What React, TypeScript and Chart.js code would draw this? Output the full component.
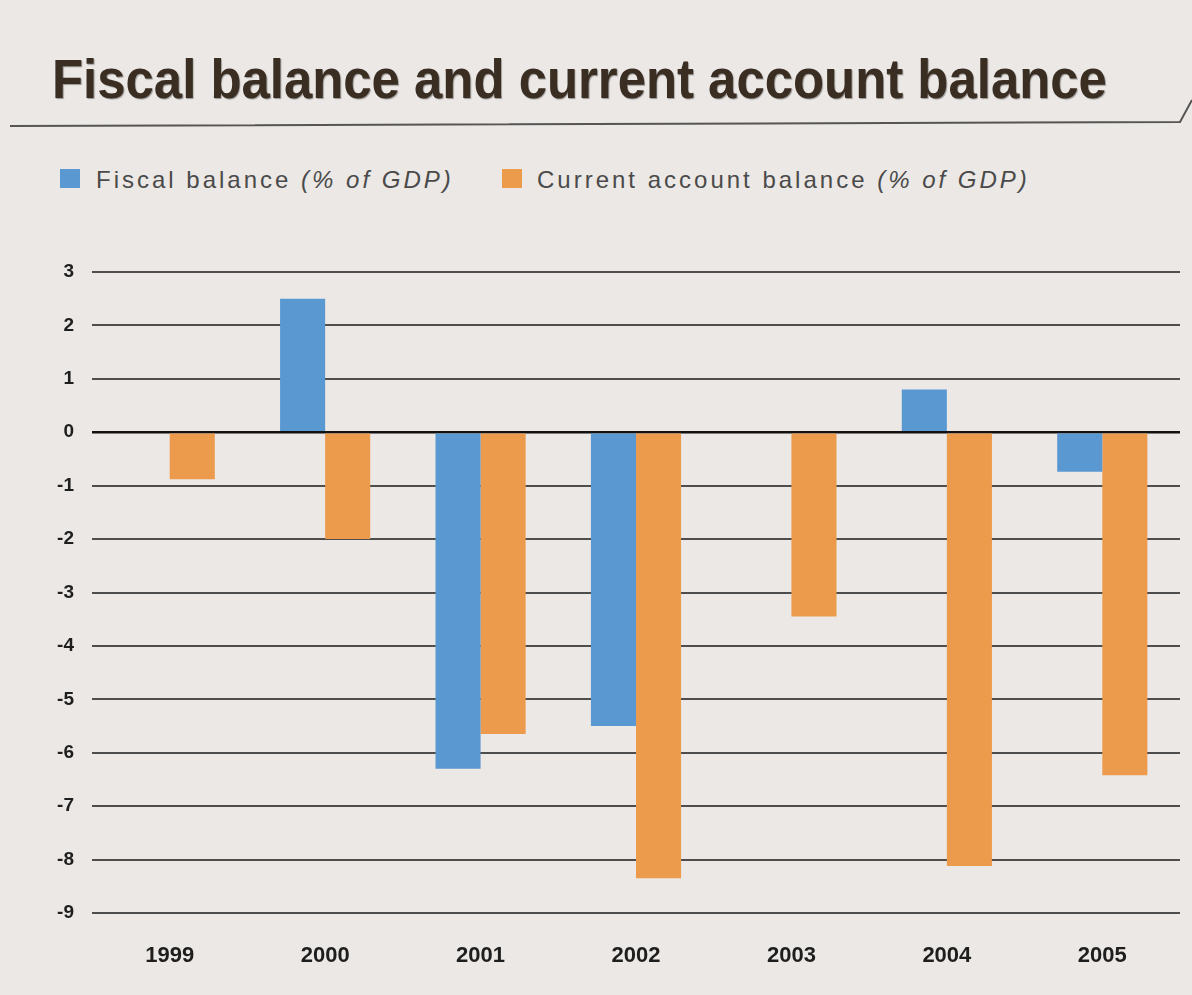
import React, { useEffect, useRef } from "react";
import { Chart, registerables } from "chart.js";

Chart.register(...registerables);

const years = ["1999", "2000", "2001", "2002", "2003", "2004", "2005"];
const fiscalBalance = [null, 2.5, -6.3, -5.5, 0, 0.8, -0.74];
const currentAccountBalance = [-0.88, -2.0, -5.65, -8.35, -3.45, -8.12, -6.42];
const yTickMin = -9;
const yTickMax = 3;

const BLUE = "#5a98d2";
const ORANGE = "#ec9a4c";
const BG = "#ebe8e5";
const TITLE_WIDTH = 1055;

export default function App() {
  const canvasRef = useRef<HTMLCanvasElement | null>(null);
  const titleRef = useRef<HTMLDivElement | null>(null);

  useEffect(() => {
    if (titleRef.current) {
      const w = titleRef.current.scrollWidth;
      if (w > 0) titleRef.current.style.transform = `scaleX(${TITLE_WIDTH / w})`;
    }
    if (!canvasRef.current) return;
    const chart = new Chart(canvasRef.current, {
      type: "bar",
      data: {
        labels: years,
        datasets: [
          {
            label: "Fiscal balance (% of GDP)",
            data: fiscalBalance as any,
            backgroundColor: BLUE,
            barPercentage: 1,
            categoryPercentage: 0.58,
          },
          {
            label: "Current account balance (% of GDP)",
            data: currentAccountBalance,
            backgroundColor: ORANGE,
            barPercentage: 1,
            categoryPercentage: 0.58,
          },
        ],
      },
      options: {
        responsive: false,
        animation: false,
        layout: { padding: { left: 0, right: 12, top: 42, bottom: 0 } },
        plugins: {
          legend: { display: false },
          tooltip: { enabled: false },
          title: { display: false },
        },
        scales: {
          x: {
            grid: { display: false },
            border: { display: false },
            ticks: {
              color: "#1e1e1e",
              font: { family: "'Liberation Sans', Arial, sans-serif", size: 22, weight: "bold" },
              padding: 22,
            },
            afterFit: (s: any) => {
              s.height = 82;
            },
          },
          y: {
            min: yTickMin,
            max: yTickMax,
            ticks: {
              stepSize: 1,
              color: "#1e1e1e",
              font: { family: "'Liberation Sans', Arial, sans-serif", size: 19, weight: "bold" },
              padding: 18,
            },
            grid: {
              drawTicks: false,
              color: (ctx: any) => (ctx.tick && ctx.tick.value === 0 ? "#111" : "#4d4d4d"),
              lineWidth: (ctx: any) => (ctx.tick && ctx.tick.value === 0 ? 2.5 : 2),
            },
            border: { display: false },
            afterFit: (s: any) => {
              s.width = 92;
            },
          },
        },
      },
    });
    return () => chart.destroy();
  }, []);

  const legendText: React.CSSProperties = {
    position: "absolute",
    top: 166,
    fontFamily: "'Liberation Sans', Arial, sans-serif",
    fontSize: 24,
    lineHeight: "27px",
    letterSpacing: "3px",
    color: "#4a4a4a",
    whiteSpace: "nowrap",
  };

  return (
    <div
      style={{
        position: "fixed",
        left: 0,
        top: 0,
        width: 1192,
        height: 995,
        background: BG,
        overflow: "hidden",
      }}
    >
      <div
        ref={titleRef}
        style={{
          position: "absolute",
          left: 52,
          top: 47,
          fontFamily: "'Liberation Sans', Arial, sans-serif",
          fontWeight: "bold",
          fontSize: 56,
          lineHeight: "64px",
          color: "#3a2d22",
          textShadow: "1px 1px 1px rgba(0,0,0,0.35)",
          whiteSpace: "nowrap",
          transformOrigin: "0 0",
        }}
      >
        Fiscal balance and current account balance
      </div>
      <svg width={1192} height={140} style={{ position: "absolute", left: 0, top: 0 }}>
        <polyline points="10,126 1180,122 1192,100" fill="none" stroke="#555" strokeWidth={2} />
      </svg>
      <div style={{ position: "absolute", left: 60, top: 169, width: 20, height: 19, background: BLUE }} />
      <div style={{ ...legendText, left: 96 }}>
        Fiscal balance <i>(% of GDP)</i>
      </div>
      <div style={{ position: "absolute", left: 502, top: 169, width: 20, height: 19, background: ORANGE }} />
      <div style={{ ...legendText, left: 537 }}>
        Current account balance <i>(% of GDP)</i>
      </div>
      <canvas
        ref={canvasRef}
        width={1192}
        height={765}
        style={{ position: "absolute", left: 0, top: 230, width: 1192, height: 765 }}
      />
    </div>
  );
}
